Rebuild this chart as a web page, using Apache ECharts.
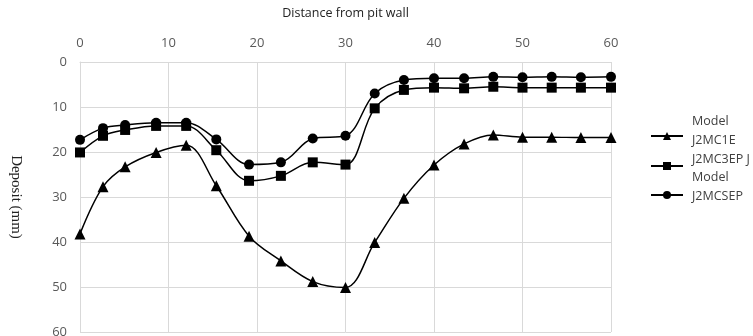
<!DOCTYPE html>
<html>
<head>
<meta charset="utf-8">
<script src="https://cdn.jsdelivr.net/npm/echarts@6/dist/echarts.min.js"></script>
<style>html,body{margin:0;padding:0;background:#fff}#c{width:753px;height:336px}</style>
</head>
<body>
<div id="c"></div>
<script>
const xTitle = "Distance from pit wall";
const yTitle = "Deposit (mm)";
const seriesNames = ["Model\nJ2MC1E", "J2MC3EP J", "Model\nJ2MCSEP"];
const distances = [0, 2.6, 5.1, 8.6, 12, 15.4, 19.1, 22.7, 26.3, 30, 33.3, 36.6, 40, 43.4, 46.7, 50, 53.3, 56.6, 60];
const depositC1E = [38.2, 27.7, 23.3, 20.1, 18.5, 27.5, 38.7, 44.2, 48.8, 50.1, 40.1, 30.3, 22.9, 18.2, 16.2, 16.7, 16.7, 16.8, 16.8];
const depositC3EP = [20.1, 16.4, 15.1, 14.2, 14.2, 19.6, 26.4, 25.3, 22.3, 22.8, 10.3, 6.2, 5.7, 5.85, 5.5, 5.7, 5.7, 5.7, 5.7];
const depositCSEP = [17.3, 14.7, 14.0, 13.5, 13.5, 17.2, 22.8, 22.3, 17.0, 16.4, 7.0, 4.0, 3.6, 3.6, 3.3, 3.4, 3.3, 3.4, 3.3];
const symbols = ["triangle", "rect", "circle"];

const allData = [depositC1E, depositC3EP, depositCSEP];
const chart = echarts.init(document.getElementById('c'));
const font = "'Open Sans', 'Noto Sans', sans-serif";
const legendTops = [115, 152.5, 171];
const legendExtra = [10, 14, 16];
chart.setOption({
  animation: false,
  backgroundColor: '#fff',
  grid: { left: 80, top: 62, right: 142, bottom: 4, containLabel: false, outerBoundsMode: 'none' },
  legend: seriesNames.map((n, i) => ({
    data: [n],
    left: 650,
    top: legendTops[i],
    padding: 0,
    orient: 'vertical',
    itemWidth: 32,
    itemHeight: 10,
    itemGap: 0,
    formatter: name => name.split('\n').map(l => '{a|' + l + '}').join('\n') + '\n{s| }',
    textStyle: {
      fontFamily: font, fontSize: 12.5, color: '#404040',
      rich: {
        a: { fontFamily: font, fontSize: 12.5, color: '#404040', lineHeight: 19, padding: [0, 0, 0, 4] },
        s: { fontSize: 1, lineHeight: legendExtra[i] }
      }
    },
    selectedMode: false
  })),
  xAxis: {
    type: 'value', position: 'top', min: 0, max: 60, interval: 10,
    name: xTitle, nameLocation: 'middle', nameGap: 42,
    nameTextStyle: { fontFamily: font, fontSize: 12.5, color: '#222' },
    axisLine: { show: true, lineStyle: { color: '#d9d9d9' } },
    axisTick: { show: false },
    axisLabel: { fontFamily: font, fontSize: 13, color: '#595959', margin: 12 },
    splitLine: { show: true, lineStyle: { color: '#d9d9d9' } }
  },
  yAxis: {
    type: 'value', inverse: true, min: 0, max: 60, interval: 10,
    name: yTitle, nameLocation: 'middle', nameGap: 57, nameRotate: 270,
    nameTextStyle: { fontFamily: "'Liberation Serif', serif", fontSize: 15, color: '#222' },
    axisLine: { show: true, lineStyle: { color: '#d9d9d9' } },
    axisTick: { show: false },
    axisLabel: { fontFamily: font, fontSize: 13, color: '#595959', margin: 13 },
    splitLine: { show: true, lineStyle: { color: '#d9d9d9' } }
  },
  series: allData.map((d, i) => ({
    name: seriesNames[i],
    type: 'line',
    smooth: 0.35,
    symbol: symbols[i],
    symbolSize: i === 0 ? 11 : 10,
    showAllSymbol: true,
    lineStyle: { color: '#000', width: 1.5 },
    itemStyle: { color: '#000' },
    data: distances.map((x, j) => [x, d[j]])
  }))
});
</script>
</body>
</html>
